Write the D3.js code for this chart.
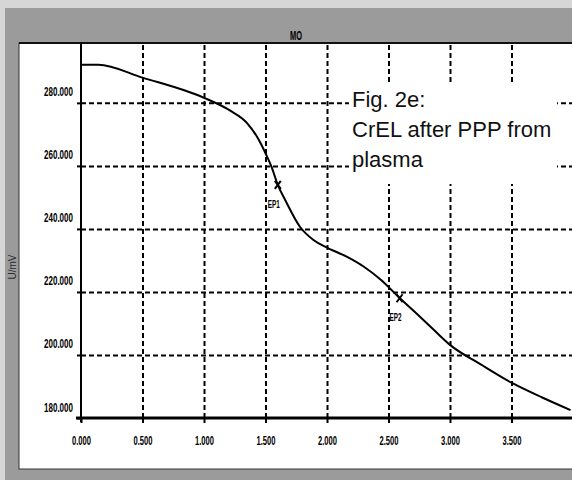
<!DOCTYPE html>
<html>
<head>
<meta charset="utf-8">
<script src="https://cdn.jsdelivr.net/npm/d3@7"></script>
<style>
  body { margin: 0; background: #fff; }
  svg { display: block; }
</style>
</head>
<body>
<div id="chart"></div>
<script>
// tick values
const xTicks = [0, 0.5, 1, 1.5, 2, 2.5, 3, 3.5];
const yTicks = [180, 200, 220, 240, 260, 280];

// titration curve
const volume = [0, 0.14, 0.5, 1.0, 1.21, 1.35, 1.43, 1.50, 1.55, 1.60, 1.66, 1.78, 1.89,
    2.0, 2.16, 2.30, 2.44, 2.58, 2.76, 2.87, 3.0, 3.25, 3.5, 3.75, 3.98];
const potential = [292.1, 292.1, 288.0, 281.6, 277.6, 273.6, 269.3, 264.0, 259.6, 254.0, 249.2, 240.7, 236.5,
    234.1, 231.2, 228.0, 223.8, 218.5, 212.0, 207.9, 203.2, 197.0, 191.2, 186.5, 182.5];

// equivalence points
const epVolume = [1.60, 2.59];
const epPotential = [254.0, 218.0];
const epLabels = ["EP1", "EP2"];

const noteLines = ["Fig. 2e:", "CrEL after PPP from", "plasma"];

(function () {
    const W = 572, H = 480;
    const plot = { left: 81, right: 573, top: 43, bottom: 418 };
    const sans = "'Liberation Sans', Arial, sans-serif";

    const x = d3.scaleLinear().domain([0, 4]).range([plot.left, plot.right]);
    const y = d3.scaleLinear().domain([180, 299]).range([plot.bottom, plot.top]);

    const svg = d3.select("#chart")
        .append("svg")
        .attr("width", W)
        .attr("height", H);

    // squeeze text like the condensed font of the scan
    const narrowText = (sel, size, len) => sel
        .attr("font-family", sans).attr("font-weight", "bold").attr("font-size", size)
        .attr("textLength", len).attr("lengthAdjust", "spacingAndGlyphs")
        .attr("fill", "#000");

    // === scanner frame ===
    svg.append("rect").attr("width", W).attr("height", H).attr("fill", "#d6d6d6");
    svg.append("rect").attr("x", 5).attr("y", 8).attr("width", W - 5).attr("height", H - 8).attr("fill", "#9b9b9b");
    svg.append("rect").attr("x", 19).attr("y", plot.top).attr("width", W - 18).attr("height", 469 - plot.top)
        .attr("fill", "#fff").attr("stroke", "#333").attr("stroke-width", 1);
    svg.append("line").attr("x1", 19).attr("x2", W).attr("y1", plot.top).attr("y2", plot.top)
        .attr("stroke", "#111").attr("stroke-width", 2);

    svg.append("text")
        .attr("x", 296).attr("y", 40)
        .attr("text-anchor", "middle")
        .call(narrowText, 13, 12)
        .text("MO");

    svg.append("text")
        .attr("transform", "translate(16,267) rotate(-90)")
        .attr("text-anchor", "middle")
        .attr("font-family", sans).attr("font-size", 10)
        .attr("fill", "#2a2a2a")
        .text("U/mV");

    // === grid ===
    const dash = "5,3";
    svg.append("g")
        .attr("transform", `translate(0,${plot.bottom})`)
        .call(d3.axisBottom(x).tickValues(xTicks.slice(1)).tickSize(-(plot.bottom - plot.top)).tickFormat(""))
        .call(g => g.select(".domain").remove())
        .selectAll("line")
        .attr("stroke", "#000").attr("stroke-width", 2).attr("stroke-dasharray", dash);

    svg.append("g")
        .attr("transform", `translate(${plot.left},0)`)
        .call(d3.axisLeft(y).tickValues(yTicks.slice(1)).tickSize(-(plot.right - plot.left)).tickFormat(""))
        .call(g => g.select(".domain").remove())
        .selectAll("line")
        .attr("stroke", "#000").attr("stroke-width", 2).attr("stroke-dasharray", dash);

    // === axes ===
    const xAxis = svg.append("g")
        .attr("transform", `translate(0,${plot.bottom})`)
        .call(d3.axisBottom(x).tickValues(xTicks).tickSize(5).tickPadding(13).tickFormat(d3.format(".3f")));
    xAxis.select(".domain").attr("d", `M${plot.left - 5},0H${W}`).attr("stroke", "#000").attr("stroke-width", 3);
    xAxis.selectAll("line").attr("stroke", "#000").attr("stroke-width", 2);
    xAxis.selectAll("text").call(narrowText, 13, 19);

    const yAxis = svg.append("g")
        .attr("transform", `translate(${plot.left},0)`)
        .call(d3.axisLeft(y).tickValues(yTicks).tickSize(4).tickPadding(4).tickFormat(d3.format(".3f")));
    yAxis.select(".domain").attr("d", `M0,${plot.top}V${plot.bottom + 4}`).attr("stroke", "#000").attr("stroke-width", 2);
    yAxis.selectAll("line").attr("stroke", "#000").attr("stroke-width", 2);
    yAxis.selectAll("text")
        .attr("dy", -7)
        .call(narrowText, 13, 29);

    // === note box ===
    svg.append("rect")
        .attr("x", 349).attr("y", 84).attr("width", 208).attr("height", 100)
        .attr("fill", "#fff");
    svg.append("g")
        .selectAll("text")
        .data(noteLines)
        .join("text")
        .attr("x", 352)
        .attr("y", (d, i) => 107 + i * 30)
        .attr("font-family", sans)
        .attr("font-size", 22)
        .attr("fill", "#111")
        .text(d => d);

    // === curve ===
    const points = volume.map((v, i) => [v, potential[i]]);
    const line = d3.line()
        .x(d => x(d[0]))
        .y(d => y(d[1]))
        .curve(d3.curveMonotoneX);

    svg.append("path")
        .datum(points)
        .attr("fill", "none")
        .attr("stroke", "#000")
        .attr("stroke-width", 2)
        .attr("d", line);

    // === EP markers ===
    const eps = epVolume.map((v, i) => ({ v, u: epPotential[i], label: epLabels[i] }));
    const mk = svg.append("g").selectAll("g").data(eps).join("g")
        .attr("transform", d => `translate(${x(d.v)},${y(d.u)})`);
    mk.append("path")
        .attr("d", "M-3,-4L3,4M-3,4L3,-4")
        .attr("stroke", "#000").attr("stroke-width", 2);
    mk.append("text")
        .attr("x", -10).attr("y", 23)
        .call(narrowText, 11, 12)
        .text(d => d.label);
})();
</script>
</body>
</html>
